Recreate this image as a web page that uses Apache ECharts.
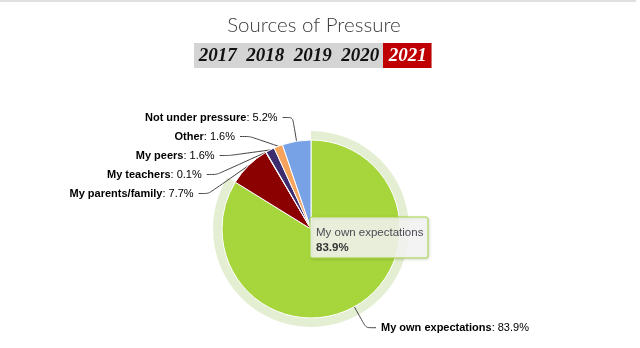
<!DOCTYPE html>
<html><head><meta charset="utf-8">
<script src="https://cdn.jsdelivr.net/npm/echarts@6/dist/echarts.min.js"></script>
<style>html,body{margin:0;padding:0;background:#fff}#c{width:640px;height:348px}</style>
</head><body><div id="c"></div>
<script>
const titleText = 'Sources of Pressure';
const years = ['2017', '2018', '2019', '2020', '2021'];
const activeYear = '2021';
const categories = ['My own expectations', 'My parents/family', 'My teachers', 'My peers', 'Other', 'Not under pressure'];
const values = [83.9, 7.7, 0.1, 1.6, 1.6, 5.2];
const sliceColors = ['#a6d63c', '#8b0000', '#2b908f', '#3d2c6e', '#f7a35c', '#77a2e5'];
const hoverIndex = 0;

const chart = echarts.init(document.getElementById('c'), null, {renderer: 'canvas'});

const pieData = categories.map((n, i) => ({name: n, value: values[i], itemStyle: {color: sliceColors[i]}}));
const haloData = categories.map((n, i) => ({name: n, value: values[i],
  itemStyle: {color: i === hoverIndex ? '#e4eed2' : 'rgba(0,0,0,0)'}}));

// year tabs
const tabX0 = 194, tabW = 47.5, tabY = 43, tabH = 25;
const yearEls = [];
yearEls.push({type: 'rect', shape: {x: tabX0, y: tabY, width: tabW * years.length, height: tabH}, style: {fill: '#d4d4d4'}});
years.forEach((y, i) => {
  const active = y === activeYear;
  if (active) yearEls.push({type: 'rect', shape: {x: tabX0 + tabW * i - 1, y: tabY, width: tabW + 1, height: tabH}, style: {fill: '#c00000'}});
  yearEls.push({type: 'text', x: tabX0 + tabW * i + tabW / 2, y: tabY + tabH / 2 + 1,
    style: {text: y, fill: active ? '#fff' : '#111', font: 'italic bold 19px "Liberation Serif", serif',
      align: 'center', verticalAlign: 'middle'}});
});

const tip = {type: 'group', x: 310, y: 217, children: [
  {type: 'rect', z: 100, shape: {x: 0, y: 0, width: 118, height: 41, r: 2},
   style: {fill: 'rgba(247,247,247,0.85)', stroke: sliceColors[hoverIndex], lineWidth: 1,
     shadowBlur: 3, shadowColor: 'rgba(0,0,0,0.15)', shadowOffsetX: 1, shadowOffsetY: 1}},
  {type: 'text', z: 101, x: 6, y: 10, style: {text: categories[hoverIndex], fill: '#4a4a55', font: '11.5px "Liberation Sans", Arial, sans-serif'}},
  {type: 'text', z: 101, x: 6, y: 25, style: {text: values[hoverIndex] + '%', fill: '#333', font: 'bold 11.5px "Liberation Sans", Arial, sans-serif'}}
]};

const lblFont = '"Liberation Sans", Arial, sans-serif';

chart.setOption({
  animation: false,
  backgroundColor: '#fff',
  title: {text: titleText, left: 309, textAlign: 'center', top: 10,
    textStyle: {fontFamily: 'Lato, "Open Sans", sans-serif', fontWeight: 300, fontSize: 20.5, color: '#3a3a3a'}},
  graphic: [
    {type: 'line', shape: {x1: 0, y1: 1, x2: 636, y2: 1}, style: {stroke: '#e0e0e0', lineWidth: 2}},
    ...yearEls,
    tip
  ],
  series: [
    {type: 'pie', silent: true, center: [311, 229], radius: 98, z: 1,
     label: {show: false}, labelLine: {show: false}, data: haloData,
     itemStyle: {borderWidth: 0}},
    {type: 'pie', center: [311, 229], radius: 89, z: 2,
     itemStyle: {borderColor: '#fff', borderWidth: 1},
     label: {show: true, color: '#000', fontSize: 11, fontFamily: lblFont,
       padding: [2, 0], lineHeight: 13, textBorderColor: '#fff', textBorderWidth: 1,
       formatter: p => '{n|' + p.name + '}: ' + p.value + '%',
       rich: {n: {fontWeight: 'bold', fontSize: 11, color: '#000', textBorderColor: '#fff', textBorderWidth: 1,
         fontFamily: lblFont}}},
     labelLine: {show: true, length: 24, length2: 10, smooth: 0.2, lineStyle: {color: '#444', width: 1}},
     data: pieData}
  ]
});
</script></body></html>
